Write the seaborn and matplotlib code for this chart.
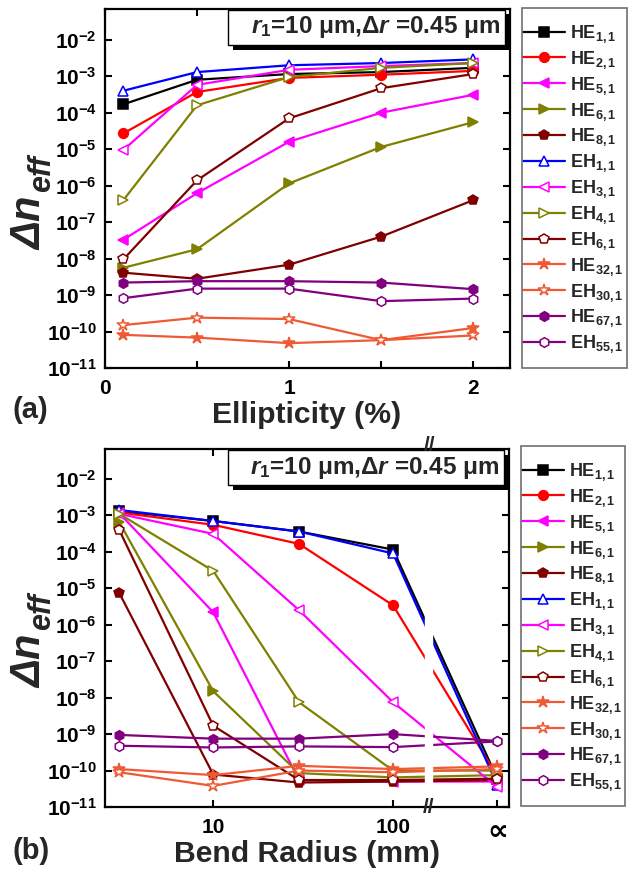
import numpy as np
import pandas as pd
import matplotlib
matplotlib.use("Agg")
import matplotlib.pyplot as plt
import matplotlib.transforms as mtransforms
from matplotlib.patches import Rectangle
from matplotlib.ticker import NullLocator
import seaborn as sns

# mode names shown in the legends
MODES = ["HE$_{1,1}$", "HE$_{2,1}$", "HE$_{5,1}$", "HE$_{6,1}$", "HE$_{8,1}$",
         "EH$_{1,1}$", "EH$_{3,1}$", "EH$_{4,1}$", "EH$_{6,1}$", "HE$_{32,1}$",
         "EH$_{30,1}$", "HE$_{67,1}$", "EH$_{55,1}$"]

# (a) delta n_eff vs ellipticity (%)
ELLIPTICITY = [0.1, 0.5, 1.0, 1.5, 2.0]
ell_he11 = [1.7e-4, 8.0e-4, 1.15e-3, 1.3e-3, 1.7e-3]
ell_he21 = [2.7e-5, 3.7e-4, 9.0e-4, 1.1e-3, 1.4e-3]
ell_he51 = [3.3e-8, 6.2e-7, 1.6e-5, 1.0e-4, 3.1e-4]
ell_he61 = [5.6e-9, 1.8e-8, 1.15e-6, 1.15e-5, 5.5e-5]
ell_he81 = [4.1e-9, 2.8e-9, 6.8e-9, 4.0e-8, 4.0e-7]
ell_eh11 = [4.0e-4, 1.3e-3, 2.0e-3, 2.3e-3, 2.9e-3]
ell_eh31 = [9.5e-6, 5.8e-4, 1.5e-3, 1.9e-3, 2.3e-3]
ell_eh41 = [4.0e-7, 1.6e-4, 9.5e-4, 1.7e-3, 2.3e-3]
ell_eh61 = [9.5e-9, 1.4e-6, 7.0e-5, 4.7e-4, 1.15e-3]
ell_he321 = [8.1e-11, 6.8e-11, 4.8e-11, 5.8e-11, 1.25e-10]
ell_eh301 = [1.5e-10, 2.4e-10, 2.2e-10, 5.8e-11, 7.8e-11]
ell_he671 = [2.2e-9, 2.4e-9, 2.4e-9, 2.2e-9, 1.45e-9]
ell_eh551 = [8.2e-10, 1.5e-9, 1.5e-9, 6.8e-10, 8.0e-10]

# (b) delta n_eff vs bend radius (mm); inf = straight fibre
BEND_RADIUS = [3, 10, 30, 100, np.inf]
bend_he11 = [1.3e-3, 7.0e-4, 3.6e-4, 1.15e-4, 6.0e-11]
bend_he21 = [1.2e-3, 5.5e-4, 1.65e-4, 3.4e-6, 7.0e-11]
bend_he51 = [1.15e-3, 2.2e-6, 5.5e-11, 5.0e-11, 5.0e-11]
bend_he61 = [6.6e-4, 1.5e-8, 8.5e-11, 6.5e-11, 7.5e-11]
bend_he81 = [7.5e-6, 7.8e-11, 4.7e-11, 5.0e-11, 5.5e-11]
bend_eh11 = [1.4e-3, 7.0e-4, 3.6e-4, 9.0e-5, 4.0e-11]
bend_eh31 = [1.1e-3, 3.1e-4, 2.5e-6, 7.5e-9, 3.5e-11]
bend_eh41 = [1.1e-3, 3.0e-5, 7.5e-9, 1.0e-10, 1.0e-10]
bend_eh61 = [4.0e-4, 1.7e-9, 5.5e-11, 5.5e-11, 6.0e-11]
bend_he321 = [1.1e-10, 7.5e-11, 1.35e-10, 1.1e-10, 1.3e-10]
bend_eh301 = [9.0e-11, 3.8e-11, 1.0e-10, 9.0e-11, 1.1e-10]
bend_he671 = [9.5e-10, 7.5e-10, 7.5e-10, 1.0e-9, 6.5e-10]
bend_eh551 = [4.8e-10, 4.3e-10, 4.6e-10, 4.4e-10, 6.3e-10]

ELL_SERIES = [ell_he11, ell_he21, ell_he51, ell_he61, ell_he81, ell_eh11, ell_eh31,
              ell_eh41, ell_eh61, ell_he321, ell_eh301, ell_he671, ell_eh551]
BEND_SERIES = [bend_he11, bend_he21, bend_he51, bend_he61, bend_he81, bend_eh11, bend_eh31,
               bend_eh41, bend_eh61, bend_he321, bend_eh301, bend_he671, bend_eh551]

# styles: colour, marker, filled
COLORS = ["black", "#ff0000", "#ff00ff", "#808000", "#800000", "#0000ff", "#ff00ff",
          "#808000", "#800000", "#ef5a35", "#ef5a35", "#800080", "#800080"]
MARKERS = ["s", "o", "<", ">", "p", "^", "<", ">", "p", "*", "*", "h", "h"]
FILLED = [True] * 5 + [False] * 4 + [True, False, True, False]

INF_POS = 380  # where the straight-fibre point sits on the log axis

sns.set_theme(style="ticks")
plt.rcParams["font.family"] = ["Liberation Sans", "DejaVu Sans"]
plt.rcParams["font.weight"] = "bold"
plt.rcParams["axes.labelweight"] = "bold"
plt.rcParams["axes.edgecolor"] = "black"
plt.rcParams["mathtext.fontset"] = "custom"
plt.rcParams["mathtext.default"] = "regular"
plt.rcParams["mathtext.rm"] = "Liberation Sans:bold"
plt.rcParams["mathtext.bf"] = "Liberation Sans:bold"
plt.rcParams["mathtext.it"] = "Liberation Sans:italic:bold"

W, H = 636, 872
fig = plt.figure(figsize=(W / 100, H / 100), dpi=100)
ax_a = fig.add_axes([0.165, 0.578, 0.637, 0.412])
ax_b = fig.add_axes([0.165, 0.0745, 0.635, 0.4106])


def draw_series(ax, xs, series):
    for name, ys, col, mk, filled in zip(MODES, series, COLORS, MARKERS, FILLED):
        df = pd.DataFrame({"x": xs, "y": ys})
        sns.lineplot(data=df, x="x", y="y", ax=ax, color=col, marker=mk,
                     markersize=9 if mk == "*" else 7,
                     markerfacecolor=col if filled else "white",
                     markeredgecolor=col, markeredgewidth=1.1,
                     linewidth=1.6, label=name, sort=False)


def ylabel_px(x_n, y_bottom):
    # "Δn" with a lowered "eff", drawn as two rotated pieces
    fig.text(x_n / W, 1 - y_bottom / H, "Δn", rotation=90, fontsize=30,
             fontstyle="italic", ha="center", va="bottom")
    fig.text((x_n + 12) / W, 1 - (y_bottom - 58) / H, "eff", rotation=90,
             fontsize=22, fontstyle="italic", ha="center", va="bottom")


def style_axes(ax, top, box_px, legend_top_px):
    ax.set_yscale("log")
    ax.set_ylim(1e-11, top)
    ax.set_yticks(10.0 ** np.arange(-11, -1))
    ax.yaxis.set_minor_locator(NullLocator())
    ax.tick_params(which="both", direction="in", top=True, right=True,
                   length=5, width=1.5, labelsize=15, pad=6, colors="black")
    ax.tick_params(axis="x", pad=8)
    for sp in ax.spines.values():
        sp.set_linewidth(1.6)
    ax.set_ylabel("")
    ax.set_xlabel("")
    # parameter box with drop shadow
    ax.add_patch(Rectangle((0.316, 0.886), 0.684, 0.098, transform=ax.transAxes,
                           facecolor="black", edgecolor="none", zorder=5, clip_on=False))
    ax.add_patch(Rectangle((0.304, 0.9), 0.684, 0.097, transform=ax.transAxes,
                           facecolor="white", edgecolor="black", linewidth=1, zorder=6))
    ax.text(0.975, 0.948, "$\\mathit{r_1}$=10 μm,$\\mathit{Δr}$ =0.45 μm",
            transform=ax.transAxes, ha="right", va="center", fontsize=17.5, zorder=7)
    # legend outside, with its own frame
    x0, y0, x1, y1 = box_px
    fig.add_artist(Rectangle((x0 / W, 1 - y1 / H), (x1 - x0) / W, (y1 - y0) / H,
                             transform=fig.transFigure, facecolor="none",
                             edgecolor="#707070", linewidth=1.2))
    ax.legend(loc="upper left", bbox_to_anchor=((x0 + 1) / W, 1 - legend_top_px / H),
              bbox_transform=fig.transFigure, fontsize=13, frameon=False,
              handlelength=2.35, handletextpad=0.28, labelspacing=0.22,
              borderpad=0, borderaxespad=0)


# panel (a)
draw_series(ax_a, ELLIPTICITY, ELL_SERIES)
style_axes(ax_a, 0.071, (522, 8, 627, 368), 23)
ax_a.set_xlim(0, 2.2)
ax_a.set_xticks([0, 1, 2])
ax_a.set_xticks([0.5, 1.5], minor=True)
fig.text(307 / W, 1 - 415 / H, "Ellipticity (%)", fontsize=21.7, ha="center", va="center")
ylabel_px(30, 250)

# panel (b)
bend_x = [INF_POS if np.isinf(r) else r for r in BEND_RADIUS]
draw_series(ax_b, bend_x, BEND_SERIES)
ax_b.set_xscale("log")
style_axes(ax_b, 0.066, (521, 446, 625, 806), 461)
ax_b.set_xlim(2.5, 440)
ax_b.set_xticks([10, 100, INF_POS])
ax_b.set_xticklabels(["10", "100", "∝"])
ax_b.get_xticklabels()[2].set_fontsize(21)
ax_b.xaxis.set_minor_locator(NullLocator())
fig.text(307 / W, 1 - 854 / H, "Bend Radius (mm)", fontsize=21.7, ha="center", va="center")
ylabel_px(30, 688)

# axis break between 100 and infinity
ax_b.axvspan(150, 164, ymin=0.005, ymax=0.995, color="white", zorder=2.2)
trans = mtransforms.blended_transform_factory(ax_b.transData, ax_b.transAxes)
ax_b.text(157, 0.0, "//", transform=trans, ha="center", va="center",
          fontsize=15, clip_on=False, zorder=8)
ax_b.text(160, 1.01, "//", transform=trans, ha="center", va="center",
          fontsize=15, clip_on=False, zorder=8)

fig.text(12 / W, 1 - 410 / H, "(a)", fontsize=21, va="center")
fig.text(12 / W, 1 - 851 / H, "(b)", fontsize=21, va="center")

fig.savefig("out.png", dpi=100)
